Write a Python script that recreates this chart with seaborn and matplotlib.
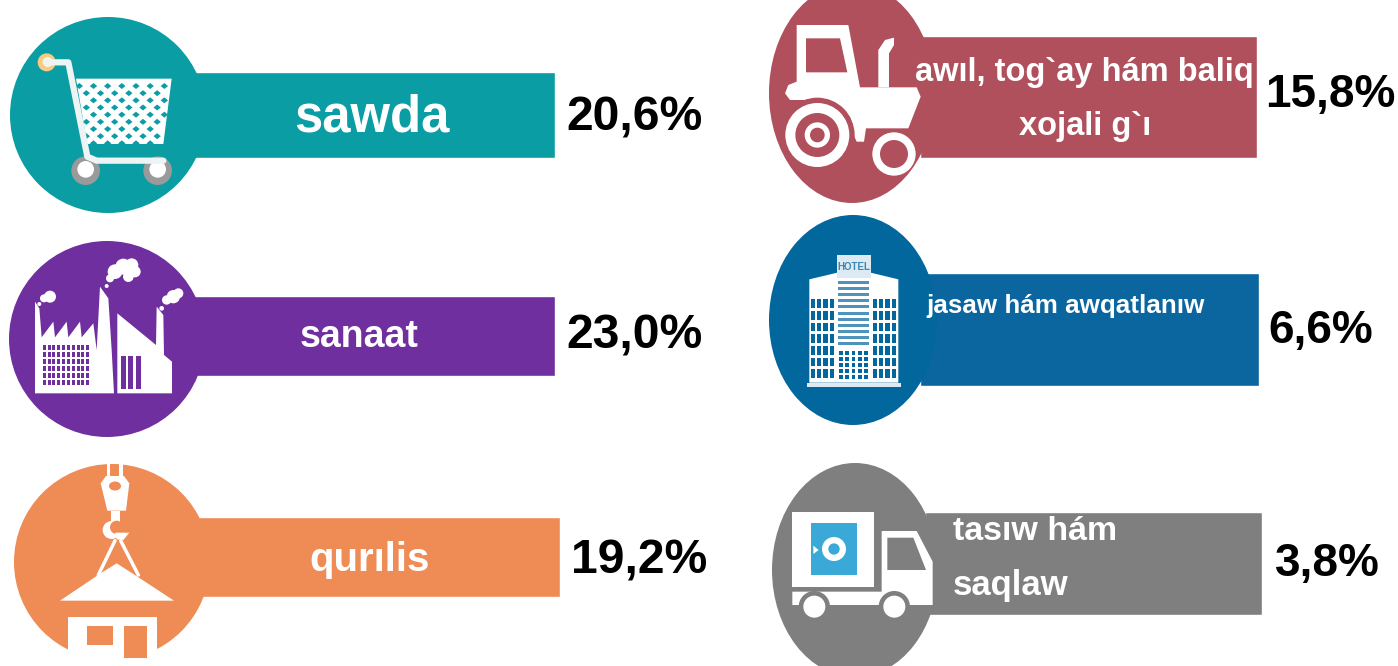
import seaborn as sns
import matplotlib
matplotlib.use("Agg")
import matplotlib.pyplot as plt
from matplotlib.patches import Circle, Ellipse, Polygon, Rectangle

# data
left_sectors = ["sawda", "sanaat", "qurılis"]
left_shares = [20.6, 23.0, 19.2]
right_sectors = ["awıl, tog`ay hám baliq\nxojali g`ı", "jasaw hám awqatlanıw", "tasıw hám\nsaqlaw"]
right_shares = [15.8, 6.6, 3.8]

W, H = 1398, 666
TEAL, PURPLE, ORANGE = "#0a9da4", "#6f2f9f", "#ef8b54"
RED, BLUE, GREY = "#b0505c", "#0b659f", "#7f7f7f"

sns.set_theme(style="white")
plt.rcParams["font.family"] = ["Liberation Sans", "DejaVu Sans"]

fig = plt.figure(figsize=(W / 100, H / 100), dpi=100)


def band(label, color, x0, y0, x1, y1):
    # one full width bar in its own little axes, placed in pixels
    ax = fig.add_axes([x0 / W, 1 - y1 / H, (x1 - x0) / W, (y1 - y0) / H], zorder=1)
    sns.barplot(x=[1], y=[label], color=color, width=1, saturation=1, ax=ax)
    ax.set_xlim(0, 1)
    ax.axis("off")


def fmt(v):
    return f"{v:.1f}".replace(".", ",") + "%"


# bands
band(left_sectors[0], TEAL, 190, 72, 555, 158)
band(left_sectors[1], PURPLE, 190, 296, 555, 376)
band(left_sectors[2], ORANGE, 190, 517, 560, 597)
band(right_sectors[0], RED, 920, 36, 1257, 158)
band(right_sectors[1], BLUE, 920, 273, 1259, 386)
band(right_sectors[2], GREY, 925, 512, 1262, 615)

# overlay in picture pixels for discs, icons and text
ink = fig.add_axes([0, 0, 1, 1], zorder=2)
ink.set_xlim(0, W)
ink.set_ylim(H, 0)
ink.axis("off")
ink.patch.set_alpha(0)


def zp(x0, y0, pts):
    return [(x0 + x / 3, y0 + y / 3) for x, y in pts]


def poly(x0, y0, pts, color="white", **kw):
    ink.add_patch(Polygon(zp(x0, y0, pts), closed=True, facecolor=color, edgecolor="none", **kw))


def box(x0, y0, a, b, c, d, color="white"):
    ink.add_patch(Rectangle((x0 + a / 3, y0 + b / 3), (c - a) / 3, (d - b) / 3, facecolor=color, edgecolor="none"))


def dot(x0, y0, x, y, r, color="white"):
    ink.add_patch(Circle((x0 + x / 3, y0 + y / 3), r / 3, facecolor=color, edgecolor="none"))


# discs
ink.add_patch(Circle((108, 115), 98, color=TEAL, lw=0))
ink.add_patch(Circle((107, 339), 98, color=PURPLE, lw=0))
ink.add_patch(Circle((112, 562), 98, color=ORANGE, lw=0))
ink.add_patch(Ellipse((852, 93), 166, 220, color=RED, lw=0))
ink.add_patch(Ellipse((853, 320), 168, 210, color="#02679d", lw=0))
ink.add_patch(Ellipse((855, 570), 166, 214, color=GREY, lw=0))

# cart
poly(0, 0, [(228, 236), (515, 236), (490, 432), (262, 432)])
for row in range(9):
    y = 258 + row * 21.5
    off = 21 if row % 2 else 0
    for col in range(7):
        x = 238 + off + col * 42.5
        if 232 + row * 3.5 < x < 505 - row * 2.5:
            poly(0, 0, [(x - 11, y), (x, y - 9), (x + 11, y), (x, y + 9)], TEAL)
xs, ys = zip(*zp(0, 0, [(140, 187), (205, 187), (262, 470), (290, 482), (490, 482)]))
ink.plot(xs, ys, color="#eef3f3", lw=4.5, solid_joinstyle="round", solid_capstyle="round")
dot(0, 0, 140, 187, 27, "#f6cc85")
dot(0, 0, 143, 186, 15, "#fff6df")
for wx in (257, 473):
    dot(0, 0, wx, 512, 43, "#9a9a9a")
    dot(0, 0, wx, 508, 25, "white")

# factory
poly(0, 230, [(105, 490), (105, 215), (118, 235), (125, 322), (160, 275), (165, 322), (200, 275), (205, 322),
              (240, 275), (245, 322), (280, 280), (290, 360), (300, 170), (325, 205), (335, 360), (342, 490)])
poly(0, 230, [(352, 490), (352, 250), (468, 345), (470, 230), (490, 255), (492, 375), (516, 395), (516, 490)])
for r in range(6):
    for c in range(10):
        box(0, 230, 128 + c * 14.5, 346 + r * 21, 137 + c * 14.5, 360 + r * 21, PURPLE)
for a, c in ((363, 377), (385, 398), (408, 423)):
    box(0, 230, a, 378, c, 478, PURPLE)
for x, y, r in ((345, 125, 22), (370, 110, 24), (395, 105, 20), (405, 125, 17), (385, 140, 16), (330, 145, 12),
                (320, 168, 6), (150, 200, 18), (132, 205, 12), (118, 222, 6), (520, 200, 20), (535, 190, 15),
                (500, 210, 14), (485, 235, 7)):
    dot(0, 230, x, y, r)

# crane and house
box(0, 450, 320, 42, 330, 80)
box(0, 450, 358, 42, 370, 80)
poly(0, 450, [(318, 78), (372, 78), (388, 100), (378, 182), (322, 182), (302, 100)])
ink.add_patch(Ellipse((115, 486), 12, 9, color=ORANGE, lw=0))
box(0, 450, 332, 182, 360, 215)
dot(0, 450, 335, 240, 27)
dot(0, 450, 350, 232, 20, ORANGE)
poly(0, 450, [(345, 248), (388, 248), (370, 270), (350, 268)])
for pts in ([(345, 272), (295, 375)], [(362, 272), (415, 375)]):
    xs, ys = zip(*zp(0, 450, pts))
    ink.plot(xs, ys, color="white", lw=2.5)
poly(0, 450, [(180, 452), (290, 378), (305, 368), (350, 340), (400, 372), (522, 452)])
box(0, 450, 205, 500, 472, 640)
box(0, 450, 260, 528, 340, 585, ORANGE)
box(0, 450, 372, 528, 442, 625, ORANGE)

# tractor
poly(760, 0, [(110, 75), (265, 75), (300, 262), (470, 262), (482, 290), (445, 385), (318, 385), (312, 425),
              (290, 425), (270, 380), (180, 300), (90, 300), (75, 280), (85, 255), (110, 245)])
poly(760, 0, [(355, 262), (355, 150), (375, 120), (402, 113), (402, 135), (387, 160), (387, 262)])
poly(760, 0, [(138, 115), (240, 115), (262, 217), (138, 217)], RED)
dot(760, 0, 172, 405, 112, RED)
poly(760, 0, [(80, 280), (100, 265), (165, 262), (225, 275), (262, 315), (285, 390), (300, 300), (200, 255), (90, 262)])
dot(760, 0, 172, 405, 96)
dot(760, 0, 172, 405, 66, RED)
dot(760, 0, 172, 405, 38)
dot(760, 0, 172, 405, 22, RED)
dot(760, 0, 402, 462, 65)
dot(760, 0, 402, 462, 42, RED)

# hotel
poly(760, 210, [(148, 208), (232, 188), (332, 188), (415, 208), (415, 518), (148, 518)])
box(760, 210, 230, 135, 332, 205, "#dcebf3")
for i in range(11):
    box(760, 210, 235, 212 + i * 18.5, 328, 221 + i * 18.5, "#4f93bd")
for x_start in (152, 338):
    for r in range(7):
        for c in range(4):
            box(760, 210, x_start + c * 19, 268 + r * 35, x_start + 13 + c * 19, 294 + r * 35, "#02679d")
for r in range(5):
    for c in range(5):
        box(760, 210, 237 + c * 19, 424 + r * 18, 248 + c * 19, 436 + r * 18, "#02679d")
box(760, 210, 140, 518, 423, 530, "#dcebf3")
ink.text(760 + 281 / 3, 210 + 170 / 3, "HOTEL", color="#3f86b2", fontsize=7, fontweight="bold",
         ha="center", va="center")

# truck
box(760, 455, 97, 172, 343, 395)
box(760, 455, 152, 205, 292, 360, "#3aa9d8")
dot(760, 455, 222, 282, 36)
dot(760, 455, 222, 282, 17, "#3aa9d8")
poly(760, 455, [(160, 272), (176, 285), (160, 297)])
poly(760, 455, [(365, 228), (470, 228), (518, 320), (518, 450), (97, 450), (97, 410), (365, 410)])
poly(760, 455, [(382, 248), (460, 248), (498, 345), (382, 345)], GREY)
for wx in (163, 403):
    dot(760, 455, wx, 455, 47, GREY)
    dot(760, 455, wx, 455, 33)

# band labels
ink.text(372, 118, left_sectors[0], color="white", fontsize=36.5, fontweight="bold", ha="center", va="center")
ink.text(359, 337, left_sectors[1], color="white", fontsize=27, fontweight="bold", ha="center", va="center")
ink.text(370, 560, left_sectors[2], color="white", fontsize=29, fontweight="bold", ha="center", va="center")
line1, line2 = right_sectors[0].split("\n")
ink.text(1084, 72, line1, color="white", fontsize=23.5, fontweight="bold", ha="center", va="center")
ink.text(1085, 127, line2, color="white", fontsize=23.5, fontweight="bold", ha="center", va="center")
ink.text(1066, 306, right_sectors[1], color="white", fontsize=18.7, fontweight="bold", ha="center", va="center")
line1, line2 = right_sectors[2].split("\n")
ink.text(953, 532, line1, color="white", fontsize=24.5, fontweight="bold", ha="left", va="center")
ink.text(953, 586, line2, color="white", fontsize=25, fontweight="bold", ha="left", va="center")

# shares
for v, x, y in zip(left_shares, (566, 566, 571), (118, 336, 561)):
    ink.text(x, y, fmt(v), color="black", fontsize=34.7, fontweight="bold", ha="left", va="center")
for v, x, y in zip(right_shares, (1265, 1268, 1275), (95, 331, 564)):
    ink.text(x, y, fmt(v), color="black", fontsize=33, fontweight="bold", ha="left", va="center")

fig.savefig("out.png", dpi=100)
